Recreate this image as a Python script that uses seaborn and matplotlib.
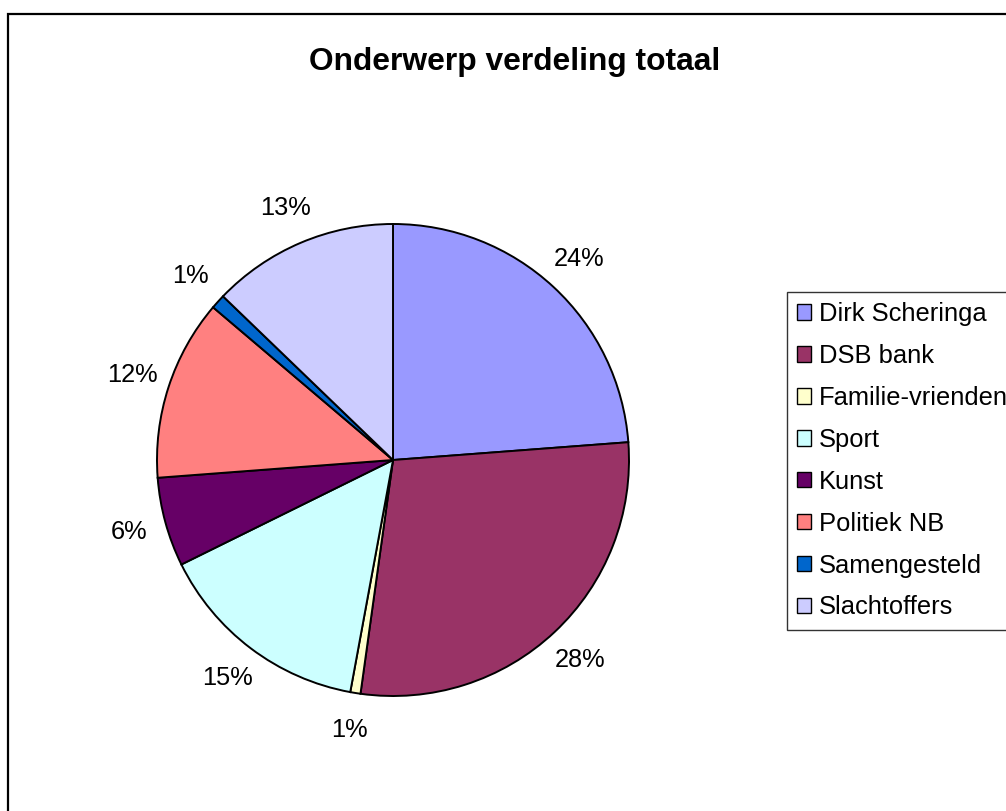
import matplotlib
matplotlib.use("Agg")
import matplotlib.pyplot as plt
import seaborn as sns
from matplotlib.patches import Rectangle

onderwerpen = ["Dirk Scheringa", "DSB bank", "Familie-vrienden", "Sport",
               "Kunst", "Politiek NB", "Samengesteld", "Slachtoffers"]
aandeel = [23.8, 28.4, 0.7, 14.8, 6.1, 12.4, 1.0, 12.8]
kleuren = ["#9999FF", "#993366", "#FFFFCC", "#CCFFFF",
           "#660066", "#FF8080", "#0066CC", "#CCCCFF"]

sns.set_theme(style="white")
plt.rcParams["font.family"] = ["Liberation Sans", "DejaVu Sans"]
plt.rcParams["text.color"] = "black"

fig = plt.figure(figsize=(10.06, 8.11), dpi=100)
fig.patch.set_facecolor("white")

# taart: middelpunt ~ (393, 460) px, straal ~ 236 px
ax = fig.add_axes([157 / 1006, 1 - 696 / 811, 472 / 1006, 472 / 811])
wedges, teksten, pct = ax.pie(
    aandeel,
    colors=kleuren,
    startangle=90,
    counterclock=False,
    autopct="%1.0f%%",
    pctdistance=1.16,
    wedgeprops=dict(edgecolor="black", linewidth=1.4),
)
for t in pct:
    t.set_fontsize(18.3)
    t.set_color("black")
ax.set_xlim(-1, 1)
ax.set_ylim(-1, 1)
ax.set_aspect("equal")
ax.axis("off")

fig.text(515 / 1006, 1 - 62 / 811, "Onderwerp verdeling totaal",
         ha="center", va="center", fontsize=22.9, fontweight="bold",
         color="black")

leg = fig.legend(wedges, onderwerpen, loc="upper left",
                 bbox_to_anchor=(787 / 1006, 1 - 292 / 811),
                 fontsize=18.4, frameon=True, fancybox=False,
                 handlelength=0.55, handleheight=0.55, handletextpad=0.3,
                 labelspacing=0.7, borderpad=0.4, borderaxespad=0)
leg.get_frame().set_edgecolor("black")
leg.get_frame().set_linewidth(1.0)
for t in leg.get_texts():
    t.set_color("black")
for h in leg.legend_handles:
    h.set_linewidth(1.0)

# buitenkader van de grafiek
fig.patches.append(Rectangle((8 / 1006, -0.05), 1.2, 1.05 - 14 / 811,
                             transform=fig.transFigure, fill=False,
                             edgecolor="black", linewidth=1.6))

plt.savefig("out.png", dpi=100)
